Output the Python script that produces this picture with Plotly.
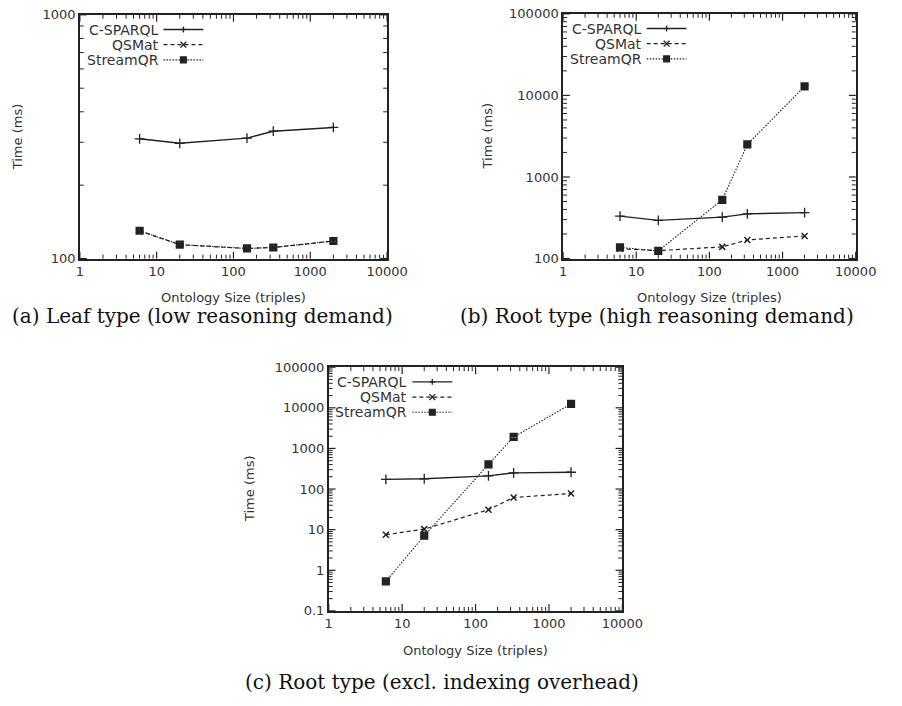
import math
import plotly.graph_objects as go

W, H = 902, 706
INK = "#222222"
TEXT = "#333333"
SANS = "DejaVu Sans"
SERIF = "DejaVu Serif"

# ontology sizes (triples) shared by every series
ontology_size = [6, 20, 150, 330, 2000]

# (a) leaf type
leaf_csparql = [310, 297, 312, 333, 345]
leaf_qsmat = [130, 114, 110, 111, 118]
leaf_streamqr = [130, 114, 110, 111, 118]

# (b) root type
root_csparql = [331, 294, 322, 353, 366]
root_qsmat = [132, 125, 139, 169, 189]
root_streamqr = [137, 124, 525, 2510, 12900]

# (c) root type without indexing overhead
noidx_csparql = [173, 179, 211, 250, 259]
noidx_qsmat = [7.5, 10.3, 31, 62, 78]
noidx_streamqr = [0.53, 7.1, 405, 1920, 12500]

series_names = ["C-SPARQL", "QSMat", "StreamQR"]

x_tick_vals = [1, 10, 100, 1000, 10000]
x_tick_text = ["1", "10", "100", "1000", "10000"]
y_tick_vals_a = [100, 1000]
y_tick_text_a = ["100", "1000"]
y_tick_vals_b = [100, 1000, 10000, 100000]
y_tick_text_b = ["100", "1000", "10000", "100000"]
y_tick_vals_c = [0.1, 1, 10, 100, 1000, 10000, 100000]
y_tick_text_c = ["0.1", "1", "10", "100", "1000", "10000", "100000"]

x_title = "Ontology Size (triples)"
y_title = "Time (ms)"
captions = [
    "(a) Leaf type (low reasoning demand)",
    "(b) Root type (high reasoning demand)",
    "(c) Root type (excl. indexing overhead)",
]

# panel boxes in pixels: left, top, right, bottom
boxes = [(78, 8, 394, 257), (575, 7, 876, 257), (334, 368, 636, 617)]

styles = [
    dict(dash="solid", width=1.4, symbol="cross-thin-open", size=7, mlw=1.3),
    dict(dash="4px,3px", width=1.2, symbol="x-thin-open", size=6, mlw=1.5),
    dict(dash="1.5px,1.5px", width=1.1, symbol="square-x-open", size=6, mlw=2.2),
]

panels = [
    ([leaf_csparql, leaf_qsmat, leaf_streamqr], y_tick_vals_a, y_tick_text_a, [2, 3]),
    ([root_csparql, root_qsmat, root_streamqr], y_tick_vals_b, y_tick_text_b, [2, 5]),
    ([noidx_csparql, noidx_qsmat, noidx_streamqr], y_tick_vals_c, y_tick_text_c, [-1, 5]),
]


def domains(box):
    l, t, r, b = box
    return [l / W, r / W], [1 - b / H, 1 - t / H]


def minor_positions(lo, hi):
    # 2..9 within every decade of the axis range
    return [d * 10 ** e for e in range(lo, hi) for d in range(2, 10)]


def log_axis(domain, anchor, rng, vals, text):
    return dict(
        type="log", domain=domain, anchor=anchor, range=rng,
        tickmode="array", tickvals=vals, ticktext=text, ticks="",
        showline=True, linecolor=INK, linewidth=1.5, mirror=True,
        showgrid=False, zeroline=False,
        tickfont=dict(family=SANS, size=13, color=TEXT),
    )


def tick_marks(n, axis, vals, rng, length_px, span_px, width):
    # gnuplot-style inward ticks on both opposite sides of the frame
    out = []
    frac_len = length_px / span_px
    xref, yref = "x" + n + " domain", "y" + n + " domain"
    for v in vals:
        f = (math.log10(v) - rng[0]) / (rng[1] - rng[0])
        for base, sgn in ((0, 1), (1, -1)):
            if axis == "x":
                x0 = x1 = f
                y0, y1 = base, base + sgn * frac_len
            else:
                y0 = y1 = f
                x0, x1 = base, base + sgn * frac_len
            out.append(dict(type="line", xref=xref, yref=yref, layer="above",
                            x0=x0, x1=x1, y0=y0, y1=y1,
                            line=dict(color=INK, width=width)))
    return out


fig = go.Figure()
layout = dict(
    width=W, height=H, margin=dict(l=0, r=0, t=0, b=0),
    paper_bgcolor="white", plot_bgcolor="white", showlegend=False,
)
annotations = []
shapes = []

for i, (series, yv, yt, yr) in enumerate(panels):
    n = "" if i == 0 else str(i + 1)
    xd, yd = domains(boxes[i])
    xr = [0, 4]
    layout["xaxis" + n] = log_axis(xd, "y" + n, xr, x_tick_vals, x_tick_text)
    layout["yaxis" + n] = log_axis(yd, "x" + n, yr, yv, yt)

    l, t, r, b = boxes[i]
    pw, ph = r - l, b - t
    cx = (l + r) / 2

    # x ticks are measured along the panel height, y ticks along its width
    shapes += tick_marks(n, "x", x_tick_vals, xr, 7, ph, 1.2)
    shapes += tick_marks(n, "x", minor_positions(*xr), xr, 4, ph, 1)
    shapes += tick_marks(n, "y", yv, yr, 7, pw, 1.2)
    shapes += tick_marks(n, "y", minor_positions(*yr), yr, 4, pw, 1)

    for name, vals, st in zip(series_names, series, styles):
        fig.add_trace(go.Scatter(
            x=ontology_size, y=vals, name=name, mode="lines+markers",
            xaxis="x" + n, yaxis="y" + n,
            line=dict(color=INK, width=st["width"], dash=st["dash"]),
            marker=dict(symbol=st["symbol"], size=st["size"], color=INK,
                        line=dict(color=INK, width=st["mlw"])),
        ))

    xref, yref = "x" + n + " domain", "y" + n + " domain"

    # key in the upper-left corner: right-aligned label, then line sample
    for k, (name, st) in enumerate(zip(series_names, styles)):
        yf = 1 - (15 + k * 15.5) / ph
        annotations.append(dict(
            xref=xref, yref=yref, x=83 / pw, y=yf, xanchor="right",
            yanchor="middle", text=name, showarrow=False,
            font=dict(family=SANS, size=14, color=TEXT),
        ))
        x0, x1 = 86 / pw, 127 / pw
        shapes.append(dict(
            type="line", xref=xref, yref=yref, x0=x0, x1=x1, y0=yf, y1=yf,
            line=dict(color=INK, width=st["width"], dash=st["dash"]),
        ))
        mx = (x0 + x1) / 2
        dx, dy = 3 / pw, 3 / ph
        if k == 0:
            segs = [(mx - dx, yf, mx + dx, yf), (mx, yf - dy, mx, yf + dy)]
        elif k == 1:
            segs = [(mx - dx, yf - dy, mx + dx, yf + dy),
                    (mx - dx, yf + dy, mx + dx, yf - dy)]
        else:
            segs = []
            shapes.append(dict(
                type="rect", xref=xref, yref=yref,
                x0=mx - dx, x1=mx + dx, y0=yf - dy, y1=yf + dy,
                line=dict(color=INK, width=1.2), fillcolor=INK,
            ))
        for (a0, b0, a1, b1) in segs:
            shapes.append(dict(
                type="line", xref=xref, yref=yref,
                x0=a0, y0=b0, x1=a1, y1=b1, line=dict(color=INK, width=1.3),
            ))

    # axis titles
    annotations.append(dict(
        xref="paper", yref="paper", x=cx / W, y=1 - (b + 40) / H,
        xanchor="center", yanchor="middle", text=x_title, showarrow=False,
        font=dict(family=SANS, size=13, color=TEXT),
    ))
    ytx = [14, 497, 252][i]
    annotations.append(dict(
        xref="paper", yref="paper", x=ytx / W, y=1 - (t + b) / 2 / H,
        xanchor="center", yanchor="middle", text=y_title, textangle=-90,
        showarrow=False, font=dict(family=SANS, size=13, color=TEXT),
    ))

# sub-figure captions
cap_pos = [(204, 316), (672, 316), (450, 690)]
for text, (px, py) in zip(captions, cap_pos):
    annotations.append(dict(
        xref="paper", yref="paper", x=px / W, y=1 - py / H,
        xanchor="center", yanchor="middle", text=text, showarrow=False,
        font=dict(family=SERIF, size=20, color="#111111"),
    ))

layout["annotations"] = annotations
layout["shapes"] = shapes
fig.update_layout(**layout)
fig.write_html("out.html")
